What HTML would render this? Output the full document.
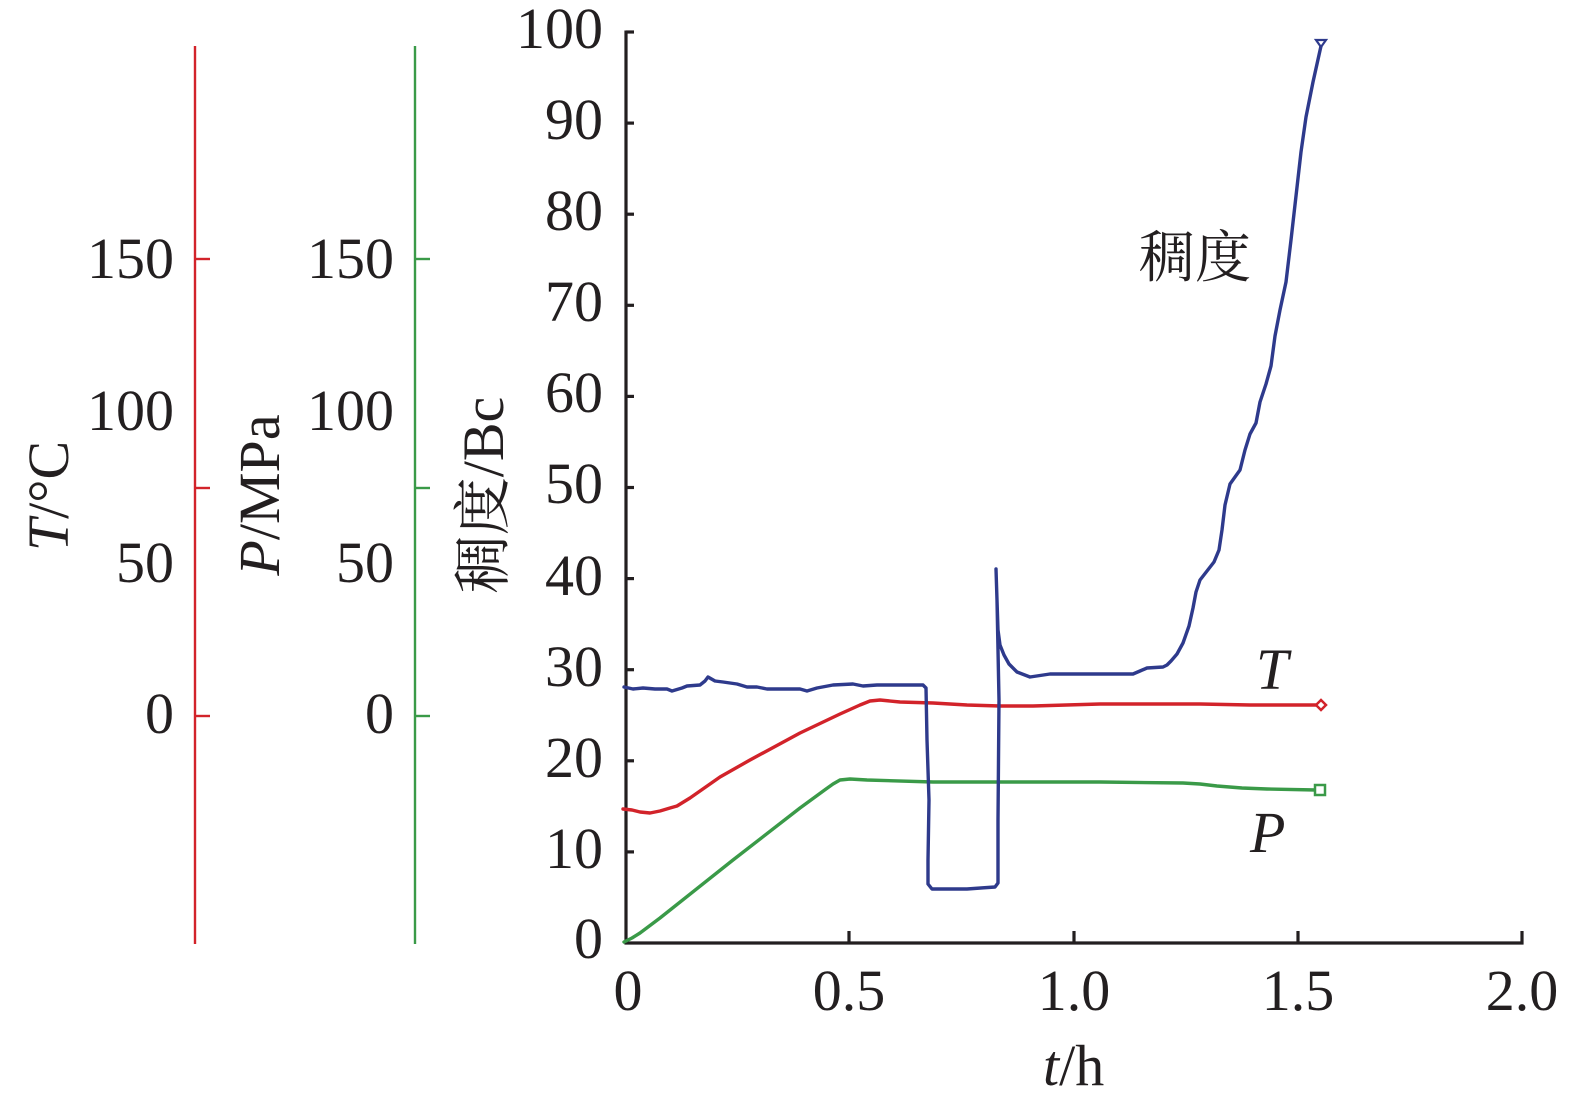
<!DOCTYPE html>
<html>
<head>
<meta charset="utf-8">
<style>
html,body{margin:0;padding:0;background:#fff;}
svg{display:block;}
text{font-family:"Liberation Serif","Times New Roman",Times,serif;fill:#231f20;}
.cjk{font-family:"Liberation Serif","Noto Serif CJK SC","Noto Sans CJK SC",serif;}
</style>
</head>
<body>
<svg width="1575" height="1106" viewBox="0 0 1575 1106" xmlns="http://www.w3.org/2000/svg">
  <!-- Red T axis -->
  <g stroke="#d2232a" stroke-width="2.4" fill="none">
    <line x1="195" y1="46" x2="195" y2="944"/>
    <line x1="195" y1="259" x2="210" y2="259"/>
    <line x1="195" y1="488" x2="210" y2="488"/>
    <line x1="195" y1="716" x2="210" y2="716"/>
  </g>
  <g font-size="58" text-anchor="end">
    <text x="174" y="278">150</text>
    <text x="174" y="430">100</text>
    <text x="174" y="582">50</text>
    <text x="174" y="733">0</text>
  </g>
  <!-- Green P axis -->
  <g stroke="#3a9a48" stroke-width="2.4" fill="none">
    <line x1="415" y1="46" x2="415" y2="944"/>
    <line x1="415" y1="259" x2="430" y2="259"/>
    <line x1="415" y1="488" x2="430" y2="488"/>
    <line x1="415" y1="716" x2="430" y2="716"/>
  </g>
  <g font-size="58" text-anchor="end">
    <text x="394" y="278">150</text>
    <text x="394" y="430">100</text>
    <text x="394" y="582">50</text>
    <text x="394" y="733">0</text>
  </g>

  <!-- Rotated axis titles -->
  <text font-size="58" text-anchor="middle" transform="translate(68,496) rotate(-90)"><tspan font-style="italic">T</tspan>/°C</text>
  <text font-size="58" text-anchor="middle" transform="translate(279,495) rotate(-90)"><tspan font-style="italic">P</tspan>/MPa</text>
  <text class="cjk" font-size="58" text-anchor="middle" transform="translate(503,495) rotate(-90)">稠度/Bc</text>

  <!-- Main axes -->
  <g stroke="#231f20" stroke-width="3.2" fill="none">
    <line x1="626" y1="30.5" x2="626" y2="944.5"/>
    <line x1="624.5" y1="943" x2="1523.5" y2="943"/>
    <line x1="626" y1="32" x2="634" y2="32"/>
    <line x1="626" y1="123.1" x2="634" y2="123.1"/>
    <line x1="626" y1="214.2" x2="634" y2="214.2"/>
    <line x1="626" y1="305.3" x2="634" y2="305.3"/>
    <line x1="626" y1="396.4" x2="634" y2="396.4"/>
    <line x1="626" y1="487.5" x2="634" y2="487.5"/>
    <line x1="626" y1="578.6" x2="634" y2="578.6"/>
    <line x1="626" y1="669.7" x2="634" y2="669.7"/>
    <line x1="626" y1="760.8" x2="634" y2="760.8"/>
    <line x1="626" y1="851.9" x2="634" y2="851.9"/>
    <line x1="849" y1="943" x2="849" y2="931"/>
    <line x1="1074" y1="943" x2="1074" y2="931"/>
    <line x1="1298" y1="943" x2="1298" y2="931"/>
    <line x1="1522" y1="944.5" x2="1522" y2="931"/>
  </g>
  <g font-size="58" text-anchor="end">
    <text x="603" y="48">100</text>
    <text x="603" y="139">90</text>
    <text x="603" y="230">80</text>
    <text x="603" y="321">70</text>
    <text x="603" y="412">60</text>
    <text x="603" y="503">50</text>
    <text x="603" y="595">40</text>
    <text x="603" y="686">30</text>
    <text x="603" y="777">20</text>
    <text x="603" y="868">10</text>
    <text x="603" y="958">0</text>
  </g>
  <g font-size="58" text-anchor="middle">
    <text x="628" y="1010">0</text>
    <text x="849" y="1010">0.5</text>
    <text x="1074" y="1010">1.0</text>
    <text x="1298" y="1010">1.5</text>
    <text x="1522" y="1010">2.0</text>
  </g>
  <text font-size="58" x="1043" y="1085"><tspan font-style="italic">t</tspan>/h</text>

  <!-- Series: P (green) -->
  <polyline fill="none" stroke="#3a9a48" stroke-width="3.4" stroke-linejoin="round" stroke-linecap="round"
    points="624,942 632,938 640,933 660,918 733,860 800,808 826,789 833,784 840,780 850,779 867,780 933,782 1020,782 1100,782 1183,783 1200,784 1217,786 1242,788 1267,789 1316,790"/>
  <rect x="1315" y="785" width="10" height="10" fill="#fff" stroke="#3a9a48" stroke-width="2.5"/>

  <!-- Series: T (red) -->
  <polyline fill="none" stroke="#d2232a" stroke-width="3.4" stroke-linejoin="round" stroke-linecap="round"
    points="623,809 632,810 640,812 650,813 660,811 670,808 677,806 690,798 700,791 710,784 720,777 750,760 800,733 840,714 860,705 870,701 880,700 900,702 933,703 967,705 1000,706 1033,706 1100,704 1200,704 1250,705 1316,705"/>
  <polygon points="1321,700 1326,705 1321,710 1316,705" fill="#fff" stroke="#d2232a" stroke-width="2.5"/>

  <!-- Series: consistency (blue) -->
  <polyline fill="none" stroke="#2e3a8c" stroke-width="3.4" stroke-linejoin="round" stroke-linecap="round"
    points="624,687 633,689 643,688 655,689 667,689 672,691 682,688 687,686 700,685 705,681 708,677 715,681 723,682 737,684 747,687 757,687 767,689 800,689 807,691 817,688 833,685 853,684 863,686 877,685 900,685 923,685 926,688 927,740 929,800 928,860 928,884 932,889 967,889 995,887 998,883 998,820 999,700 997,600 996,569 997,600 998,630 1000,645 1004,655 1009,664 1017,672 1030,677 1050,674 1133,674 1140,671 1147,668 1163,667 1167,665 1171,661 1177,654 1183,643 1189,626 1193,608 1196,592 1200,580 1207,571 1214,562 1219,550 1222,530 1225,505 1230,484 1240,470 1245,450 1250,434 1256,423 1260,402 1266,384 1271,366 1275,336 1280,310 1286,282 1291,240 1296,196 1301,152 1306,117 1313,82 1321,46"/>
  <polygon points="1316,40 1326,40 1321,47" fill="#fff" stroke="#2e3a8c" stroke-width="2.2"/>

  <!-- Series labels -->
  <text class="cjk" font-size="56" x="1139" y="277">稠度</text>
  <text font-size="58" font-style="italic" x="1256" y="689">T</text>
  <text font-size="58" font-style="italic" x="1250" y="852">P</text>
</svg>
</body>
</html>
